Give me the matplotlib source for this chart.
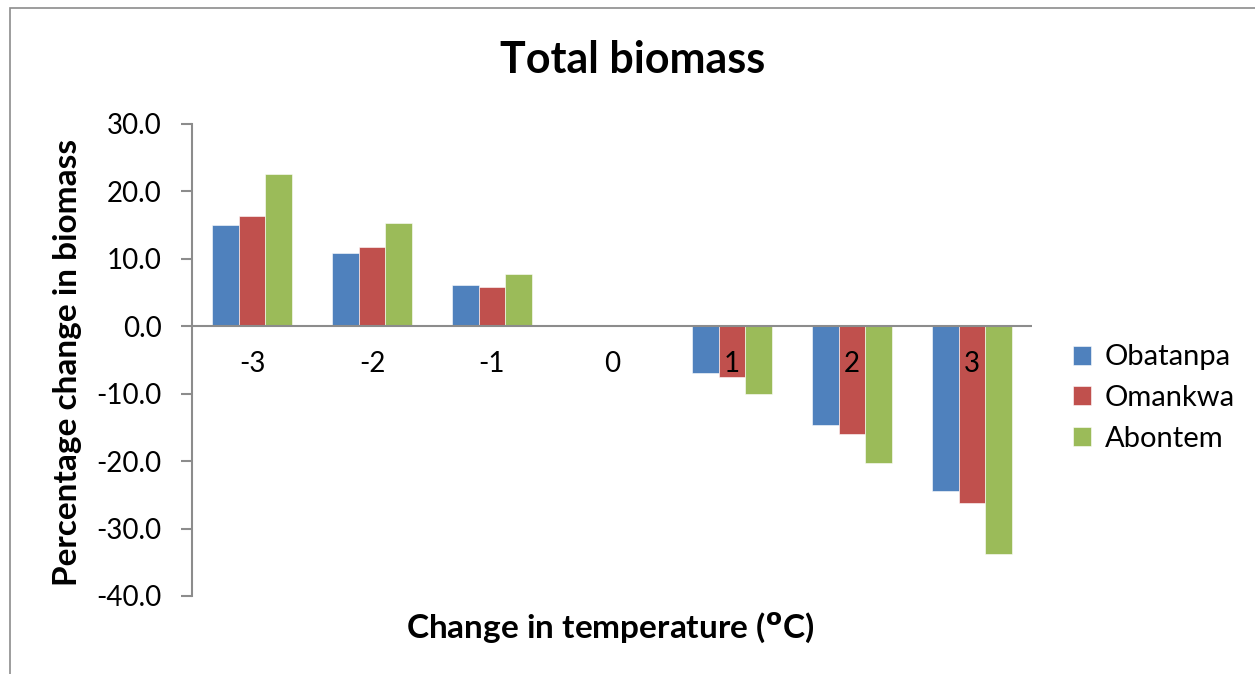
import matplotlib
matplotlib.use("Agg")
import matplotlib.pyplot as plt
import numpy as np
from matplotlib.patches import Rectangle

plt.rcParams["font.family"] = ["Lato", "DejaVu Sans"]

temps = ["-3", "-2", "-1", "0", "1", "2", "3"]
obatanpa = [15.0, 10.9, 6.1, 0.0, -7.0, -14.6, -24.5]
omankwa = [16.3, 11.7, 5.9, 0.0, -7.5, -16.0, -26.2]
abontem = [22.6, 15.3, 7.8, 0.0, -10.1, -20.3, -33.7]
series = [("Obatanpa", obatanpa, "#4F81BD"),
          ("Omankwa", omankwa, "#C0504D"),
          ("Abontem", abontem, "#9BBB59")]

W, H = 1255, 674
fig = plt.figure(figsize=(W / 100, H / 100), dpi=100)
fig.patch.set_facecolor("white")
# chart frame (left & top edges visible)
fig.patches.append(Rectangle((10 / W, -0.1), 1.2, (H - 8) / H + 0.1, transform=fig.transFigure,
                             fill=False, ec="#8c8c8c", lw=1.2))

ax = fig.add_axes([192 / W, (H - 596) / H, (1032 - 192) / W, (596 - 124) / H])
x = np.arange(len(temps))
bw = 0.22
for i, (name, vals, col) in enumerate(series):
    ax.bar(x + (i - 1) * bw, vals, bw, color=col, label=name, ec="white", lw=0.4, zorder=2)

ax.set_xlim(-0.5, len(temps) - 0.5)
ax.set_ylim(-40, 30)
ax.set_yticks(np.arange(-40, 31, 10))
ax.set_yticklabels([f"{v:.1f}" for v in np.arange(-40, 31, 10)], fontsize=20)
ax.axhline(0, color="#8c8c8c", lw=1.5, zorder=3)
ax.set_xticks([])
for xi, t in zip(x, temps):
    ax.text(xi, -3.6, t, ha="center", va="top", fontsize=20, zorder=4)

for s in ["top", "right", "bottom"]:
    ax.spines[s].set_visible(False)
ax.spines["left"].set_color("#8c8c8c")
ax.spines["left"].set_linewidth(1.5)
ax.tick_params(axis="y", length=8, width=1.5, color="#8c8c8c", pad=14)

fig.text(633 / W, 1 - 60 / H, "Total biomass", ha="center", va="center", fontsize=31, fontweight="bold")
fig.text(68 / W, 1 - 362 / H, "Percentage change in biomass", ha="center", va="center",
         rotation=90, fontsize=24, fontweight="bold")
fig.text(610 / W, 1 - 628 / H, "Change in temperature ($\\mathbf{^o}$C)", ha="center", va="center",
         fontsize=24, fontweight="bold")

ax.legend(loc="center left", bbox_to_anchor=(1047 / W, 1 - 398 / H), bbox_transform=fig.transFigure,
          frameon=False, fontsize=21, handlelength=0.62, handleheight=0.62, labelspacing=0.5,
          handletextpad=0.45)

fig.savefig("out.png", dpi=100, facecolor="white")
